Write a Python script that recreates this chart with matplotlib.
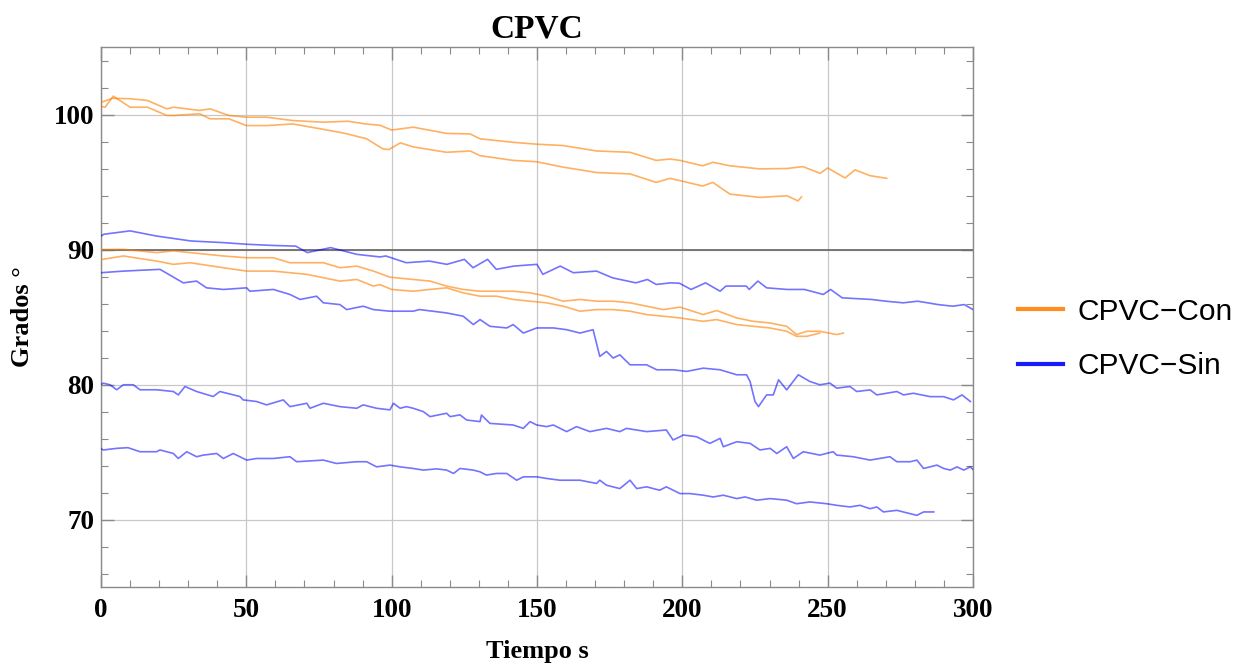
import matplotlib
matplotlib.use("Agg")
import matplotlib.pyplot as plt
from matplotlib.lines import Line2D
from matplotlib.ticker import MultipleLocator

# ---------------- data ----------------
con_a_x = [0, 4, 10, 16, 22.6, 25, 34, 37.5, 44, 50, 57, 66, 76.5, 85, 91, 96, 100, 107.4,
           118.9, 127, 130.4, 141.8, 149.9, 159, 170.5, 182, 191, 195.8, 199.2, 207, 210.5,
           216.4, 226.7, 236, 241.5, 247.4, 250, 256, 259.4, 264.6, 270.3]
con_a_y = [100.9, 101.2, 101.17, 101.04, 100.42, 100.54, 100.3, 100.42, 99.93, 99.8, 99.8,
           99.55, 99.43, 99.5, 99.3, 99.2, 98.85, 99.06, 98.6, 98.56, 98.2, 97.94, 97.8, 97.7,
           97.3, 97.2, 96.6, 96.7, 96.6, 96.2, 96.46, 96.2, 95.97, 96.0, 96.14, 95.64, 96.04,
           95.3, 95.9, 95.47, 95.27]

con_b_x = [0, 1.4, 4.2, 10, 16, 22.6, 25, 34, 37.5, 44, 50, 57, 66, 76.5, 84, 91.4, 97, 99,
           103, 107.4, 118.9, 127, 130.4, 141.8, 149.9, 159, 170.5, 182, 191, 195.8, 199.2,
           207, 210.5, 216.4, 226.7, 236, 239.8, 241]
con_b_y = [100.6, 100.54, 101.36, 100.54, 100.54, 99.93, 99.93, 100.05, 99.68, 99.68, 99.18,
           99.18, 99.3, 98.9, 98.6, 98.2, 97.45, 97.4, 97.9, 97.6, 97.2, 97.3, 96.95, 96.6,
           96.5, 96.1, 95.7, 95.6, 94.97, 95.27, 95.1, 94.7, 94.97, 94.1, 93.86, 93.98, 93.6,
           93.9]

con_c_x = [0, 7.7, 19.2, 24.9, 30.6, 42.1, 50.1, 59.3, 65, 76.5, 82.2, 88, 93.7, 99.4, 107.4,
           113.2, 118.9, 124.6, 130.4, 136.1, 141.8, 147.6, 153.3, 159, 164.8, 170.5, 176.2,
           182, 187.7, 193.4, 199.2, 207.2, 211.8, 218.7, 224.4, 230.1, 235.9, 239.3, 242.8,
           247.3, 253.1, 255.4]
con_c_y = [90.0, 90.01, 89.77, 89.9, 89.77, 89.52, 89.39, 89.39, 89.02, 89.02, 88.65, 88.77,
           88.4, 87.95, 87.78, 87.66, 87.29, 87.04, 86.91, 86.91, 86.91, 86.79, 86.54, 86.17,
           86.3, 86.17, 86.17, 86.05, 85.8, 85.55, 85.73, 85.18, 85.48, 84.93, 84.68, 84.56,
           84.31, 83.7, 83.94, 83.94, 83.7, 83.81]

con_d_x = [0, 7.7, 19.2, 24.9, 30.6, 42.1, 50.1, 59.3, 70.8, 82.2, 88, 93.7, 96, 100, 107.4,
           113.2, 118.9, 124.6, 130.4, 136.1, 141.8, 147.6, 153.3, 159, 164.8, 170.5, 176.2,
           182, 187.7, 193.4, 199.2, 207.2, 211.8, 218.7, 224.4, 230.1, 235.9, 239.3, 242.8,
           247.3]
con_d_y = [89.25, 89.52, 89.14, 88.9, 89.02, 88.65, 88.4, 88.4, 88.16, 87.66, 87.78, 87.29,
           87.4, 87.04, 86.91, 87.04, 87.16, 86.79, 86.54, 86.54, 86.3, 86.17, 86.05, 85.8,
           85.43, 85.55, 85.55, 85.43, 85.18, 85.06, 84.93, 84.68, 84.81, 84.44, 84.31, 84.19,
           83.94, 83.57, 83.57, 83.81]

sin_a_x = [0, 1, 10, 19, 31, 42, 50, 59, 67, 71, 79, 88, 96, 98, 105, 113, 119, 125, 128, 133,
           136, 142, 150, 152, 158, 162.5, 170.5, 176, 184, 188, 191, 196, 199, 203, 208, 213,
           215, 222, 223, 226, 229, 236, 242, 248.5, 251, 255, 265, 270, 276, 281, 288, 293,
           297, 300]
sin_a_y = [91.0, 91.13, 91.38, 91.0, 90.63, 90.51, 90.39, 90.3, 90.25, 89.77, 90.14, 89.64,
           89.45, 89.52, 89.02, 89.14, 88.9, 89.27, 88.65, 89.27, 88.53, 88.77, 88.9, 88.16,
           88.77, 88.28, 88.4, 87.9, 87.53, 87.78, 87.41, 87.53, 87.5, 87.04, 87.53, 86.91,
           87.29, 87.29, 87.04, 87.66, 87.16, 87.04, 87.04, 86.67, 87.04, 86.42, 86.3, 86.17,
           86.05, 86.17, 85.92, 85.8, 85.92, 85.55]

sin_b_x = [0, 7.7, 20.3, 28.3, 32.9, 36.3, 42.1, 50.1, 51.2, 59.3, 65, 68.5, 74.2, 76.5, 82.2,
           84.5, 90.2, 93.7, 99.4, 107.4, 109.6, 118.9, 124.6, 128.1, 130.4, 133.8, 139.6,
           141.8, 145.3, 149.9, 155.6, 160.2, 164.8, 169.3, 171.6, 173.9, 176.2, 178.5, 182,
           187.7, 191.2, 196.9, 201.5, 207.2, 213, 218.7, 222.1, 223.3, 225, 226.2, 229, 231.3,
           233.1, 235.9, 239.9, 243.9, 247.3, 250.8, 253.1, 257.7, 260, 264.6, 266.9, 273.8,
           276.1, 279.5, 285.3, 289.9, 293.3, 296.2, 299.1]
sin_b_y = [88.28, 88.4, 88.53, 87.53, 87.66, 87.16, 87.04, 87.16, 86.91, 87.04, 86.67, 86.3,
           86.54, 86.05, 85.92, 85.55, 85.8, 85.55, 85.43, 85.43, 85.55, 85.3, 85.06, 84.44,
           84.81, 84.31, 84.19, 84.44, 83.81, 84.19, 84.19, 84.06, 83.81, 84.06, 82.08, 82.45,
           81.96, 82.2, 81.46, 81.46, 81.09, 81.09, 80.97, 81.21, 81.09, 80.72, 80.72, 80.22,
           78.74, 78.36, 79.23, 79.23, 80.35, 79.6, 80.72, 80.22, 79.98, 80.1, 79.73, 79.85,
           79.48, 79.6, 79.23, 79.48, 79.23, 79.35, 79.1, 79.1, 78.86, 79.23, 78.74]

sin_c_x = [0, 0.8, 3.1, 5.4, 7.7, 11.1, 13.4, 19.1, 24.9, 26.6, 28.9, 32.9, 38.6, 40.9, 47.8,
           48.9, 53.5, 57, 62.7, 65, 70.8, 71.9, 76.5, 82.2, 88, 90.2, 94.8, 99.4, 100.6,
           102.9, 105.1, 107.4, 110.9, 113.2, 118.9, 120.1, 123.5, 125.8, 130.4, 130.9, 133.8,
           141.8, 145.3, 147.6, 149.9, 153.3, 155.6, 160.2, 163.6, 168.2, 173.9, 178.5, 180.8,
           187.7, 194.5, 196.8, 199.2, 200.3, 204.9, 208.3, 209.5, 213, 214.1, 218.7, 223.3,
           226.7, 230.2, 232.5, 235.9, 238.2, 241.6, 247.3, 251.9, 253.1, 258.8, 264.6, 271.4,
           273.8, 278.4, 280.7, 283, 287.6, 289.9, 292.2, 294.5, 296.8, 299.1, 300]
sin_c_y = [80.0, 80.1, 79.98, 79.61, 79.98, 79.98, 79.61, 79.61, 79.48, 79.23, 79.85, 79.48,
           79.11, 79.48, 79.11, 78.86, 78.74, 78.49, 78.86, 78.36, 78.61, 78.24, 78.61, 78.36,
           78.24, 78.49, 78.24, 78.12, 78.61, 78.24, 78.36, 78.24, 77.99, 77.62, 77.87, 77.62,
           77.75, 77.37, 77.25, 77.74, 77.12, 77.0, 76.75, 77.25, 77.0, 76.88, 77.0, 76.51,
           76.88, 76.51, 76.75, 76.51, 76.75, 76.51, 76.63, 75.89, 76.13, 76.26, 76.13, 75.76,
           75.64, 76.01, 75.39, 75.76, 75.64, 75.15, 75.27, 74.89, 75.39, 74.52, 75.02, 74.77,
           75.02, 74.77, 74.65, 74.4, 74.65, 74.28, 74.28, 74.4, 73.78, 74.03, 73.78, 73.66,
           73.9, 73.66, 73.9, 73.7]

sin_d_x = [0, 0.8, 5.4, 9.3, 13.4, 19.1, 20.3, 24.9, 26.6, 29.5, 32.9, 35.2, 39.8, 42.1, 45.5,
           50.1, 53.5, 59.3, 65, 67.3, 76.5, 81, 88, 91.4, 94.8, 99.4, 102.9, 107.4, 110.9,
           115.5, 118.9, 121.3, 123.5, 128.1, 130.4, 132.6, 136.1, 139.6, 143, 145.3, 149.9,
           153.3, 157.9, 164.8, 170.5, 171.6, 173.9, 178.5, 182, 184.3, 187.7, 192.2, 194.5,
           199.2, 202.6, 207.2, 210.6, 214.1, 218.7, 221.6, 225.6, 230.2, 235.9, 239.3, 243.9,
           249.6, 253.1, 257.7, 261.1, 264.6, 266.9, 269.2, 273.8, 278.4, 280.7, 283, 286.5]
sin_d_y = [75.25, 75.15, 75.27, 75.32, 75.02, 75.02, 75.15, 74.89, 74.52, 75.02, 74.65, 74.77,
           74.89, 74.52, 74.89, 74.4, 74.52, 74.52, 74.65, 74.28, 74.4, 74.15, 74.28, 74.28,
           73.9, 74.03, 73.9, 73.78, 73.66, 73.75, 73.66, 73.41, 73.78, 73.66, 73.53, 73.29,
           73.41, 73.41, 72.91, 73.16, 73.16, 73.04, 72.91, 72.91, 72.67, 72.91, 72.54, 72.29,
           72.91, 72.29, 72.42, 72.17, 72.42, 71.92, 71.92, 71.8, 71.67, 71.8, 71.55, 71.67,
           71.43, 71.55, 71.43, 71.17, 71.3, 71.17, 71.05, 70.93, 71.05, 70.8, 70.93, 70.56,
           70.68, 70.43, 70.31, 70.56, 70.56]

con_series = [(con_a_x, con_a_y), (con_b_x, con_b_y), (con_c_x, con_c_y), (con_d_x, con_d_y)]
sin_series = [(sin_a_x, sin_a_y), (sin_b_x, sin_b_y), (sin_c_x, sin_c_y), (sin_d_x, sin_d_y)]
legend_labels = ["CPVC\u2212Con", "CPVC\u2212Sin"]
x_ticks = [0, 50, 100, 150, 200, 250, 300]
y_ticks = [70, 80, 90, 100]

# ---------------- figure ----------------
W, H = 1243, 665
fig = plt.figure(figsize=(W / 100, H / 100), dpi=100)
ax = fig.add_axes([101 / W, 1 - 587 / H, (973 - 101) / W, (587 - 47) / H])

serif = ["Liberation Serif", "DejaVu Serif"]
sans = ["Liberation Sans", "DejaVu Sans"]

ORANGE = (1.0, 0.5, 0.0)
BLUE = (0.0, 0.0, 1.0)

ax.set_xlim(0, 300)
ax.set_ylim(65, 105)

ax.set_xticks(x_ticks)
ax.set_yticks(y_ticks)
ax.xaxis.set_minor_locator(MultipleLocator(10))
ax.yaxis.set_minor_locator(MultipleLocator(2))
ax.grid(True, which="major", color="#c8c8c8", lw=0.9)
ax.set_axisbelow(True)
ax.axhline(90, color="#6e6e6e", lw=1.3, zorder=1.5)

for xs, ys in con_series:
    ax.plot(xs, ys, color=ORANGE, alpha=0.62, lw=1.2, zorder=3)
for xs, ys in sin_series:
    ax.plot(xs, ys, color=BLUE, alpha=0.55, lw=1.2, zorder=3)

for s in ax.spines.values():
    s.set_color("#8a8a8a")
    s.set_linewidth(1.0)

ax.tick_params(which="both", direction="in", top=True, right=True, color="#8a8a8a")
ax.tick_params(which="major", length=9, width=1.0)
ax.tick_params(which="minor", length=5, width=0.8)
ax.tick_params(axis="x", which="major", pad=8)
ax.tick_params(axis="y", which="major", pad=5)
for lab in ax.get_xticklabels() + ax.get_yticklabels():
    lab.set_fontfamily(serif)
    lab.set_fontweight("bold")
    lab.set_fontsize(19.5)

ax.set_title("CPVC", fontfamily=serif, fontweight="bold", fontsize=24, pad=7)
ax.set_xlabel("Tiempo s", fontfamily=serif, fontweight="bold", fontsize=19, labelpad=12)
ax.set_ylabel("Grados \u00b0", fontfamily=serif, fontweight="bold", fontsize=19, labelpad=14)

handles = [Line2D([], [], color=(1.0, 0.55, 0.12), lw=3),
           Line2D([], [], color=(0.1, 0.1, 1.0), lw=3)]
fig.legend(handles, legend_labels, loc="center left",
           bbox_to_anchor=(1018 / W, 1 - 339 / H), frameon=False, borderpad=0,
           borderaxespad=0, prop={"family": sans, "size": 21.5}, handlelength=1.5,
           handletextpad=0.5, labelspacing=0.9)

fig.savefig("out.png", dpi=100)
